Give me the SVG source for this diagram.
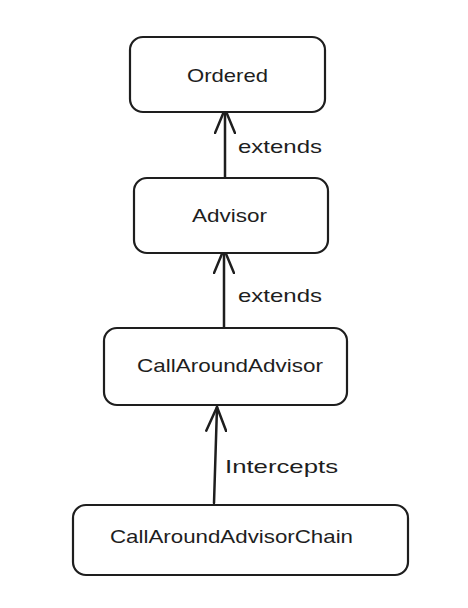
<svg xmlns="http://www.w3.org/2000/svg" width="468" height="608" viewBox="0 0 468 608">
<style>
.box{fill:#fff;stroke:#1e1e1e;stroke-width:2.2}
.lbl{font-family:"Liberation Sans",Arial,sans-serif;font-size:19px;fill:#1e1e1e}
.edge{fill:none;stroke:#1e1e1e;stroke-width:2.5;stroke-linecap:round}
</style>
<defs>
<marker id="arr" viewBox="0 0 28 22" refX="25" refY="11" markerWidth="28" markerHeight="22" markerUnits="userSpaceOnUse" orient="auto">
<path d="M1,1 L25,11 L1,21" fill="none" stroke="#1e1e1e" stroke-width="2.5" stroke-linecap="round" stroke-linejoin="round"/>
</marker>
</defs>
<rect width="468" height="608" fill="#fff"/>
<g id="connectors">
<line class="edge" x1="225" y1="177" x2="225" y2="109" marker-end="url(#arr)"/>
<text class="lbl" x="238" y="153" textLength="84" lengthAdjust="spacingAndGlyphs">extends</text>
<line class="edge" x1="224" y1="330" x2="224" y2="249" marker-end="url(#arr)"/>
<text class="lbl" x="238" y="302" textLength="84" lengthAdjust="spacingAndGlyphs">extends</text>
<line class="edge" x1="214" y1="503" x2="217" y2="407" marker-end="url(#arr)"/>
<text class="lbl" x="225" y="473" textLength="113" lengthAdjust="spacingAndGlyphs">Intercepts</text>
</g>
<g id="ordered">
<rect class="box" x="130" y="37" width="195" height="75" rx="13"/>
<text class="lbl" x="187" y="82" textLength="81" lengthAdjust="spacingAndGlyphs">Ordered</text>
</g>
<g id="advisor">
<rect class="box" x="134" y="178" width="194" height="75" rx="13"/>
<text class="lbl" x="192" y="222" textLength="75" lengthAdjust="spacingAndGlyphs">Advisor</text>
</g>
<g id="callAroundAdvisor">
<rect class="box" x="104" y="328" width="243" height="77" rx="13"/>
<text class="lbl" x="137" y="372" textLength="186" lengthAdjust="spacingAndGlyphs">CallAroundAdvisor</text>
</g>
<g id="callAroundAdvisorChain">
<rect class="box" x="73" y="505" width="335" height="70" rx="13"/>
<text class="lbl" x="110" y="543" textLength="243" lengthAdjust="spacingAndGlyphs">CallAroundAdvisorChain</text>
</g>
</svg>
